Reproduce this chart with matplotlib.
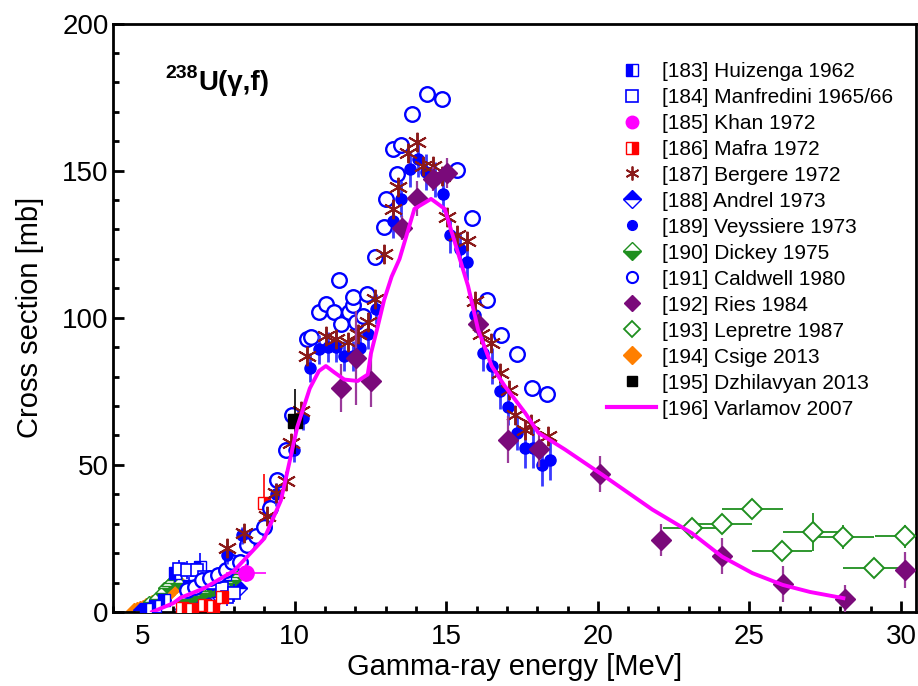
import numpy as np
import matplotlib
matplotlib.use('Agg')
import matplotlib.pyplot as plt
from matplotlib.ticker import MultipleLocator
from matplotlib.lines import Line2D

plt.rcParams['font.family'] = ['Liberation Sans', 'DejaVu Sans']

# ---- data ----
huiz_x = [5.1, 5.4, 5.7, 6.06, 6.5, 6.89, 7.3, 7.7]
huiz_y = [1.0, 2.0, 4.0, 13.2, 9.0, 15.2, 10.0, 13.0]
huiz_e = [1.0, 1.0, 2.0, 3.0, 3.0, 5.0, 3.0, 3.0]

manf_x = [6.2, 6.45, 6.78, 7.0, 7.3, 7.6, 7.77, 7.99]
manf_y = [14.5, 14.3, 14.3, 12.0, 10.0, 8.0, 5.2, 6.4]
manf_e = [3.0, 3.0, 3.0, 3.0, 3.0, 3.0, 3.0, 3.0]

khan_x = [8.38]
khan_y = [13.2]
khan_xe = [0.66]
khan_ye = [3.0]

mafra_x = [6.3, 6.6, 7.0, 7.3, 7.6, 8.99]
mafra_y = [1.5, 1.0, 2.5, 2.0, 5.0, 37.0]
mafra_e = [1.0, 1.0, 2.0, 2.0, 2.0, 10.0]

berg_x = [7.77, 8.32, 9.1, 9.37, 9.7, 9.87, 10.2, 10.42, 11.03, 11.36, 11.75, 12.08,
          12.41, 12.65, 12.96, 13.24, 13.4, 13.74, 14.03, 14.23, 14.56, 14.87, 15.04,
          15.37, 15.67, 15.94, 16.14, 16.47, 16.77, 17.07, 17.27, 17.6, 17.8, 18.37]
berg_y = [21.7, 26.8, 32.5, 40.5, 44.4, 57.5, 68.2, 87.0, 93.8, 92.7, 91.8, 94.4,
          98.4, 106.3, 121.6, 137.0, 144.3, 156.0, 159.7, 151.5, 151.5, 148.3, 134.1,
          128.1, 126.2, 105.7, 94.4, 91.5, 81.1, 75.6, 67.1, 62.0, 63.9, 59.7]

andr_x = [4.9, 5.1, 5.3, 5.5, 5.7, 6.3, 6.4, 6.5, 6.6, 6.7, 6.8, 6.9, 7.0, 7.1, 7.2, 7.3,
          7.4, 7.5, 7.6, 7.7, 7.8, 7.9, 8.0, 8.1, 8.2]
andr_y = [0.8, 1.5, 2.0, 3.0, 4.0, 1.0, 1.5, 2.0, 2.0, 2.5, 3.0, 3.0, 3.5, 4.0, 4.0, 4.5,
          5.0, 5.0, 5.5, 6.0, 6.0, 6.5, 7.0, 7.5, 8.0]

veys_x = [7.77, 8.27, 9.37, 9.97, 10.26, 10.51, 10.81, 11.09, 11.36, 11.64, 11.91, 12.17,
          12.41, 12.69, 13.24, 13.51, 13.79, 14.07, 14.34, 14.62, 14.9, 15.11, 15.44,
          15.7, 15.94, 16.22, 16.5, 16.77, 17.05, 17.32, 17.6, 17.87, 18.15, 18.43]
veys_y = [19.4, 26.0, 40.0, 55.0, 66.0, 83.0, 89.3, 90.0, 90.0, 87.0, 87.0, 89.8,
          94.4, 103.0, 133.0, 140.4, 150.6, 154.0, 149.5, 147.0, 142.0, 128.0, 123.3,
          119.0, 101.0, 88.0, 83.6, 75.0, 69.7, 60.9, 55.8, 55.8, 49.8, 51.8]
veys_e = [3, 3, 4, 4, 4, 5, 5, 5, 5, 5, 5, 5,
          5, 5, 6, 6, 6, 6, 6, 6, 6, 6, 6,
          6, 6, 6, 6, 6, 6, 6, 7, 7, 7, 7]

dick_x = [5.2, 5.4, 5.6, 5.7, 5.8, 5.9, 6.0, 6.1, 6.2, 6.3, 6.4, 6.5, 6.6, 6.7, 6.8, 6.9,
          7.0, 7.1, 7.2, 7.3, 7.4, 7.5, 7.6, 7.7, 7.8, 7.9, 8.0, 8.1, 8.2]
dick_y = [3.5, 4.5, 6.5, 8.0, 9.0, 10.0, 11.0, 11.5, 10.0, 4.0, 4.5, 5.0, 5.0, 5.5, 6.0,
          6.0, 6.5, 7.0, 7.0, 7.5, 8.0, 8.5, 8.5, 9.0, 10.0, 10.5, 11.0, 12.0, 13.0]

cald_x = [6.45, 6.72, 6.95, 7.2, 7.46, 7.72, 7.94, 8.19, 8.44, 8.71, 8.99, 9.2, 9.43,
          9.7, 9.92, 10.42, 10.53, 10.81, 11.03, 11.3, 11.47, 11.53, 11.8, 11.91, 11.93,
          12.02, 12.27, 12.4, 12.66, 12.94, 13.02, 13.24, 13.38, 13.51, 13.87, 14.37,
          14.86, 15.37, 15.85, 16.33, 16.82, 17.32, 17.82, 18.31]
cald_y = [7.5, 8.6, 10.9, 11.5, 12.6, 14.3, 17.1, 17.1, 22.8, 25.7, 29.0, 35.3, 45.0,
          55.2, 67.1, 92.7, 93.6, 101.8, 104.6, 101.8, 112.8, 97.8, 101.8, 104.3, 107.0,
          98.4, 100.6, 108.0, 120.6, 130.7, 140.4, 157.3, 148.7, 158.6, 169.3, 176.2,
          174.2, 150.2, 133.8, 106.0, 94.0, 87.6, 76.2, 74.2]

ries_x = [11.53, 12.02, 12.52, 13.54, 14.05, 14.55, 15.04, 16.05, 17.05, 18.06,
          20.08, 22.07, 24.1, 26.1, 28.14, 30.13]
ries_y = [76.2, 86.4, 78.5, 130.5, 140.6, 147.2, 149.2, 97.8, 58.6, 55.4,
          46.9, 24.5, 19.0, 9.5, 4.3, 14.3]
ries_e = [8.2, 16.0, 8.8, 4.0, 6.0, 4.0, 5.0, 4.0, 8.0, 6.0,
          6.2, 5.4, 6.0, 6.0, 5.0, 6.0]

lepr_x = [23.1, 24.1, 25.1, 26.07, 27.1, 28.1, 29.1, 30.13]
lepr_y = [28.5, 30.0, 35.0, 20.6, 27.1, 25.4, 15.1, 25.7]
lepr_xe = [0.94, 1.0, 1.0, 1.0, 1.0, 1.0, 1.0, 1.0]
lepr_ye = [2.0, 3.0, 3.0, 3.0, 6.5, 4.0, 3.0, 4.0]

csig_x = [4.7, 4.8, 4.9, 5.0, 5.1, 5.2, 5.3, 5.4, 5.5, 5.6, 5.7, 5.8, 5.9, 6.0, 6.1, 6.2]
csig_y = [0.3, 0.6, 1.0, 1.4, 1.9, 2.4, 3.0, 3.5, 4.0, 4.6, 5.3, 6.2, 7.2, 8.3, 9.3, 10.0]

dzhi_x = [10.0]
dzhi_y = [64.8]
dzhi_e = [11.0]

varl_x = [5.3, 6.0, 6.23, 7.0, 8.0, 9.0, 9.55, 10.09, 10.5, 10.8, 11.03, 11.3, 11.64,
          12.08, 12.41, 12.52, 12.74, 12.95, 13.2, 13.46, 13.95, 14.5, 14.95, 15.39,
          15.72, 16.05, 16.5, 16.93, 17.6, 18.04, 18.92, 20.14, 21.8, 23.1, 24.1, 25.1,
          26.1, 27.0, 28.1]
varl_y = [0.0, 3.0, 4.8, 8.0, 14.0, 25.0, 38.0, 63.0, 76.0, 81.9, 83.6, 81.5, 79.0,
          78.5, 80.7, 88.0, 97.0, 106.0, 114.0, 120.0, 137.0, 140.4, 137.0, 122.0,
          110.8, 96.0, 83.6, 76.8, 67.7, 60.9, 55.2, 46.7, 34.8, 26.8, 18.8, 13.2,
          9.2, 6.8, 4.7]

blue = '#0000ff'
green = '#1f8f1f'
maroon = '#8b1a1a'
purple = '#7a0a7a'
orange = '#ff7f00'
magenta = '#ff00ff'

fig = plt.figure(figsize=(9.18, 6.86), dpi=100)
ax = fig.add_axes([0.1228, 0.1079, 0.8752, 0.8578])

ax.plot(csig_x, csig_y, 'D', ms=8.5, color=orange, zorder=2)
ax.plot(andr_x, andr_y, 'D', ms=7.5, color=blue, mfc=blue, mfcalt='white',
        fillstyle='top', mew=1, zorder=2)
ax.plot(dick_x, dick_y, 'D', ms=6.5, color=green, mfc=green, mfcalt='white',
        fillstyle='bottom', mew=1, zorder=2)
ax.errorbar(huiz_x, huiz_y, yerr=huiz_e, fmt='s', ms=8, color=blue, mfc=blue, mfcalt='white',
            fillstyle='left', ecolor=blue, elinewidth=1.2, zorder=3)
ax.errorbar(manf_x, manf_y, yerr=manf_e, fmt='s', ms=9, color=blue, mfc='white',
            ecolor=blue, elinewidth=1.2, mew=1.2, zorder=3)
ax.errorbar(mafra_x, mafra_y, yerr=mafra_e, fmt='s', ms=8, color='red', mfc='red',
            mfcalt='white', fillstyle='right', ecolor='red', elinewidth=1.2, zorder=3)
ax.plot(cald_x, cald_y, 'o', ms=10.5, color=blue, mfc='white', mew=1.7, zorder=4)
ax.errorbar(khan_x, khan_y, xerr=khan_xe, yerr=khan_ye, fmt='o', ms=11, color=magenta,
            ecolor=magenta, elinewidth=1.2, zorder=4)
ax.errorbar(veys_x, veys_y, yerr=veys_e, fmt='o', ms=8, color=blue, ecolor='#3a3aff',
            elinewidth=2, zorder=5)
ax.plot(berg_x, berg_y, ls='none', marker=(6, 2, 0), ms=14, mew=1.4, color=maroon, zorder=6)
ax.errorbar(ries_x, ries_y, yerr=ries_e, fmt='D', ms=10, color=purple, ecolor='#9a3a9a',
            elinewidth=1.6, zorder=6)
ax.errorbar(lepr_x, lepr_y, xerr=lepr_xe, yerr=lepr_ye, fmt='D', ms=10, color=green,
            mfc='white', ecolor=green, elinewidth=1.3, mew=1.4, zorder=6)
ax.errorbar(dzhi_x, dzhi_y, yerr=dzhi_e, fmt='s', ms=10, color='black', ecolor='black',
            elinewidth=1.2, zorder=6)
ax.plot(varl_x, varl_y, color=magenta, lw=2.8, zorder=7)

ax.set_xlim(4, 30.5)
ax.set_ylim(0, 200)
ax.xaxis.set_major_locator(MultipleLocator(5))
ax.xaxis.set_minor_locator(MultipleLocator(1))
ax.yaxis.set_major_locator(MultipleLocator(50))
ax.yaxis.set_minor_locator(MultipleLocator(10))
ax.tick_params(which='both', direction='in', width=2, labelsize=20)
ax.tick_params(which='major', length=8)
ax.tick_params(axis='x', which='major', pad=9)
ax.tick_params(axis='y', which='major', pad=3)
ax.tick_params(which='minor', length=4)
for s in ax.spines.values():
    s.set_linewidth(2)

ax.set_xlabel('Gamma-ray energy [MeV]', fontsize=21, labelpad=2)
ax.set_ylabel('Cross section [mb]', fontsize=21, labelpad=13)

ax.text(0.065, 0.907, '238', transform=ax.transAxes, fontsize=14, fontweight='bold')
ax.text(0.106, 0.887, 'U(γ,f)', transform=ax.transAxes, fontsize=20, fontweight='bold')

# legend handles: markers only
ms_leg = 8
handles = [
    Line2D([], [], ls='none', marker='s', ms=ms_leg, color=blue, mfc=blue, mfcalt='white', fillstyle='left'),
    Line2D([], [], ls='none', marker='s', ms=ms_leg, color=blue, mfc='white', mew=1.2),
    Line2D([], [], ls='none', marker='o', ms=ms_leg + 1, color=magenta),
    Line2D([], [], ls='none', marker='s', ms=ms_leg, color='red', mfc='red', mfcalt='white', fillstyle='right'),
    Line2D([], [], ls='none', marker=(6, 2, 0), ms=ms_leg + 2, mew=1.3, color=maroon),
    Line2D([], [], ls='none', marker='D', ms=ms_leg + 1, color=blue, mfc=blue, mfcalt='white', fillstyle='top'),
    Line2D([], [], ls='none', marker='o', ms=ms_leg - 1, color=blue),
    Line2D([], [], ls='none', marker='D', ms=ms_leg + 1, color=green, mfc=green, mfcalt='white', fillstyle='bottom'),
    Line2D([], [], ls='none', marker='o', ms=ms_leg, color=blue, mfc='white', mew=1.5),
    Line2D([], [], ls='none', marker='D', ms=ms_leg, color=purple),
    Line2D([], [], ls='none', marker='D', ms=ms_leg, color=green, mfc='white', mew=1.3),
    Line2D([], [], ls='none', marker='D', ms=ms_leg + 1, color=orange),
    Line2D([], [], ls='none', marker='s', ms=ms_leg - 1, color='black'),
    Line2D([], [], color=magenta, lw=3),
]
labels = ['[183] Huizenga 1962', '[184] Manfredini 1965/66', '[185] Khan 1972',
          '[186] Mafra 1972', '[187] Bergere 1972', '[188] Andrel 1973',
          '[189] Veyssiere 1973', '[190] Dickey 1975', '[191] Caldwell 1980',
          '[192] Ries 1984', '[193] Lepretre 1987', '[194] Csige 2013',
          '[195] Dzhilavyan 2013', '[196] Varlamov 2007']
ax.legend(handles, labels, loc='upper left', bbox_to_anchor=(0.605, 0.949),
          frameon=False, fontsize=15, handlelength=2.35, handletextpad=0.3,
          labelspacing=0.335, borderaxespad=0)

fig.savefig('out.png', dpi=100)
